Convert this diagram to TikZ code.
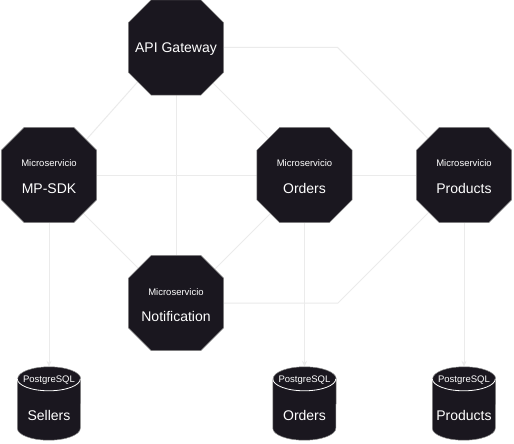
\documentclass[tikz,border=0pt]{standalone}
\usepackage{fontspec}
\setmainfont{Liberation Sans}
\usetikzlibrary{arrows.meta,backgrounds}
\definecolor{octfill}{HTML}{1A171F}
\definecolor{edgec}{HTML}{EBEBEB}
\definecolor{octline}{HTML}{8A8A8A}
\tikzset{
  octbox/.style={rectangle, minimum width=95pt, minimum height=95pt, inner sep=0pt},
  dbbox/.style={rectangle, minimum width=63pt, minimum height=73pt, inner sep=0pt},
  smalltxt/.style={text=white, font=\fontsize{9.5}{11}\selectfont, anchor=base, inner sep=0pt},
  bigtxt/.style={text=white, font=\fontsize{14}{16}\selectfont, anchor=base, inner sep=0pt},
  link/.style={draw=edgec, line width=1pt},
  arr/.style={link, -{Stealth[length=6pt,width=5pt]}},
  shapefill/.style={fill=octfill, draw=octline, line width=0.5pt},
}
\newcommand\octshape[1]{%
  \filldraw[shapefill]
   ([xshift=23pt]#1.north west) -- ([xshift=-23pt]#1.north east) -- ([yshift=-23pt]#1.north east) -- ([yshift=23pt]#1.south east) -- ([xshift=-23pt]#1.south east) -- ([xshift=23pt]#1.south west) -- ([yshift=23pt]#1.south west) -- ([yshift=-23pt]#1.north west) -- cycle;}
\newcommand\dbshape[1]{%
  \filldraw[shapefill]
   ([yshift=-12pt]#1.north west) -- ([yshift=12pt]#1.south west) arc[start angle=180,end angle=360,x radius=31.5pt,y radius=12pt] -- ([yshift=-12pt]#1.north east) arc[start angle=0,end angle=180,x radius=31.5pt,y radius=12pt] -- cycle;
  \draw[white, line width=0.8pt] ([yshift=-12pt]#1.north west) arc[start angle=180,end angle=360,x radius=31.5pt,y radius=12pt];}
\begin{document}
\begin{tikzpicture}[x=1pt,y=-1pt]
\useasboundingbox (0,0) rectangle (514,444);
% shape nodes
\node[octbox] (gw) at (176,47.5) {};
\node[octbox] (sdk) at (49,175) {};
\node[octbox] (ord) at (304.5,175) {};
\node[octbox] (prd) at (464,175) {};
\node[octbox] (ntf) at (176,303) {};
\node[dbbox] (dbs) at (49,403.5) {};
\node[dbbox] (dbo) at (304.5,403.5) {};
\node[dbbox] (dbp) at (464,403.5) {};
\begin{scope}[on background layer]
  \fill[white] (0,0) rectangle (514,444);
  % connectors
  \draw[link] ([shift={(-38,34)}]gw.center) -- ([shift={(37,-35)}]sdk.center);
  \draw[link] ([shift={(36.5,35)}]gw.center) -- ([shift={(-36,-36.5)}]ord.center);
  \draw[link] (gw.south) -- (ntf.north);
  \draw[link] (gw.east) -- ++(114,0) -- ([shift={(-35.5,-36)}]prd.center);
  \draw[link] (sdk.east) -- (ord.west);
  \draw[link] (ord.east) -- (prd.west);
  \draw[link] ([shift={(34,38)}]sdk.center) -- ([shift={(-37.5,-34.5)}]ntf.center);
  \draw[link] ([shift={(-34,38.5)}]ord.center) -- ([shift={(38.5,-33.5)}]ntf.center);
  \draw[link] ([shift={(-35,37)}]prd.center) -- ++(-91,91) -- (ntf.east);
  \draw[arr] (sdk.south) -- (dbs.north);
  \draw[arr] (ord.south) -- (dbo.north);
  \draw[arr] (prd.south) -- (dbp.north);
  % shapes
  \octshape{gw}
  \octshape{sdk}
  \octshape{ord}
  \octshape{prd}
  \octshape{ntf}
  \dbshape{dbs}
  \dbshape{dbo}
  \dbshape{dbp}
\end{scope}
% texts
\node[bigtxt] (gwt) at ([yshift=-5.5pt]gw.center) {API Gateway};
\node[smalltxt] (sdks) at ([yshift=8.5pt]sdk.center) {Microservicio};
\node[bigtxt] (sdkt) at ([yshift=-18pt]sdk.center) {MP-SDK};
\node[smalltxt] (ords) at ([yshift=8.5pt]ord.center) {Microservicio};
\node[bigtxt] (ordt) at ([yshift=-18pt]ord.center) {Orders};
\node[smalltxt] (prds) at ([yshift=8.5pt]prd.center) {Microservicio};
\node[bigtxt] (prdt) at ([yshift=-18pt]prd.center) {Products};
\node[smalltxt] (ntfs) at ([yshift=7.5pt]ntf.center) {Microservicio};
\node[bigtxt] (ntft) at ([yshift=-18pt]ntf.center) {Notification};
\node[smalltxt] (dbss) at ([yshift=21.5pt]dbs.center) {PostgreSQL};
\node[bigtxt] (dbst) at ([yshift=-16.5pt]dbs.center) {Sellers};
\node[smalltxt] (dbos) at ([yshift=21.5pt]dbo.center) {PostgreSQL};
\node[bigtxt] (dbot) at ([yshift=-16.5pt]dbo.center) {Orders};
\node[smalltxt] (dbps) at ([yshift=21.5pt]dbp.center) {PostgreSQL};
\node[bigtxt] (dbpt) at ([yshift=-16.5pt]dbp.center) {Products};
\end{tikzpicture}
\end{document}
